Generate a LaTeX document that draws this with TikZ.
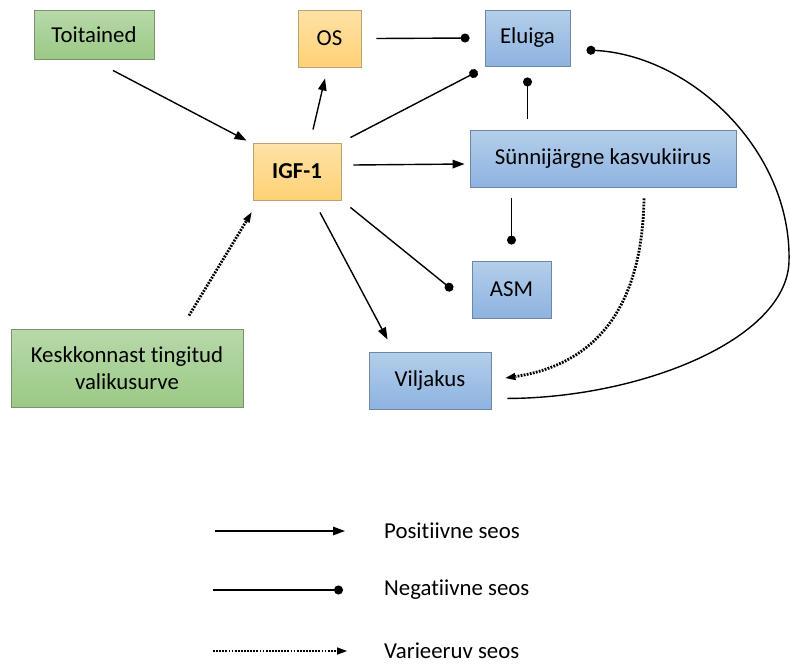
\documentclass[tikz,border=0pt]{standalone}
\usepackage{fontspec}
\setmainfont{Carlito}[Ligatures=NoCommon]
\usetikzlibrary{arrows.meta,calc}
\definecolor{gtop}{HTML}{B8D9AA}
\definecolor{gbot}{HTML}{9BC985}
\definecolor{gbrd}{HTML}{7A9270}
\definecolor{otop}{HTML}{FFE2A6}
\definecolor{obot}{HTML}{FFD176}
\definecolor{obrd}{HTML}{B9A274}
\definecolor{btop}{HTML}{B4CEEA}
\definecolor{bbot}{HTML}{8DB3E0}
\definecolor{bbrd}{HTML}{6F86A4}
\tikzset{
  box/.style={draw, line width=0.9pt, align=center, inner sep=0pt,
    font=\fontsize{22.8}{27}\selectfont},
  gbox/.style={box, draw=gbrd, top color=gtop, bottom color=gbot},
  obox/.style={box, draw=obrd, top color=otop, bottom color=obot},
  bbox/.style={box, draw=bbrd, top color=btop, bottom color=bbot},
  posarr/.style={line width=1.4pt, -{Triangle[length=12pt,width=8.5pt]}},
  negarr/.style={line width=1.4pt, -{Circle[length=9pt]}},
  vararr/.style={line width=2.8pt, dash pattern=on 1.8pt off 1.3pt, -{Triangle[length=10pt,width=7.5pt,line width=0pt]}},
  legtxt/.style={anchor=west, inner sep=0pt, font=\fontsize{22.8}{27}\selectfont}
}
\begin{document}
\begin{tikzpicture}[x=1pt,y=-1pt]
\useasboundingbox (0,0) rectangle (790,664);
% nodes
\node[gbox, minimum width=120pt, minimum height=49pt] (toit) at (94,34.5) {Toitained};
\node[obox, minimum width=63pt, minimum height=57pt] (os) at (329.5,38.5) {OS};
\node[bbox, minimum width=85pt, minimum height=56pt] (el) at (527.5,38) {Eluiga};
\node[obox, minimum width=88pt, minimum height=57pt, font=\fontsize{22.8}{27}\selectfont\bfseries] (igf) at (297,171.5) {IGF-1};
\node[bbox, minimum width=266pt, minimum height=57pt] (sk) at (603,158.5) {Sünnijärgne kasvukiirus};
\node[bbox, minimum width=79pt, minimum height=57pt] (asm) at (511.5,289.5) {ASM};
\node[gbox, minimum width=232pt, minimum height=78pt] (kesk) at (127,368) {Keskkonnast tingitud\\valikusurve};
\node[bbox, minimum width=122pt, minimum height=57pt] (vil) at (430,380.5) {Viljakus};
% connectors
\draw[posarr] ([shift={(19,11)}]toit.south) -- ([shift={(-6,-2)}]igf.north west);
\draw[posarr] ([shift={(16,-13)}]igf.north) -- ([shift={(-4.5,11)}]os.south);
\draw[negarr] ([shift={(15,0)}]os.east) -- ([shift={(-15,0)}]el.west);
\draw[negarr] ([shift={(9,-5)}]igf.north east) -- ([shift={(-7,5)}]el.south west);
\draw[negarr] ($(el.south |- sk.north)+(0,-11)$) -- ([shift={(0,11)}]el.south);
\draw[posarr] ([shift={(12,-6.5)}]igf.east) -- ([shift={(-5,5.5)}]sk.west);
\draw[negarr] ([shift={(9,7)}]igf.south east) -- ([shift={(-19,0.5)}]asm.west);
\draw[posarr] ([shift={(23,12)}]igf.south) -- ([shift={(19,-12)}]vil.north west);
\draw[vararr] ([shift={(62,-13)}]kesk.north) -- ([shift={(-1,12)}]igf.south west);
\draw[negarr] ($(asm.north |- sk.south)+(0,11)$) -- ([shift={(0,-16)}]asm.north);
\draw[vararr] ([shift={(41,11)}]sk.south) .. controls (642,320) and (585,366) .. ([shift={(14,-2.5)}]vil.east);
\draw[negarr] ([shift={(16,-11)}]vil.south east) .. controls (640,398) and (786,340) .. (789,262)
  .. controls (792,150) and (690,55) .. ([shift={(16,12)}]el.east);
% legend
\coordinate (l1a) at (215,531); \coordinate (l1b) at (345,531);
\coordinate (l2a) at (213,590); \coordinate (l2b) at (343,590);
\coordinate (l3a) at (213,651); \coordinate (l3b) at (347,651);
\draw[posarr] (l1a) -- (l1b);
\draw[negarr] (l2a) -- (l2b);
\draw[vararr] (l3a) -- (l3b);
\node[legtxt] (t1) at (384,531) {Positiivne seos};
\node[legtxt] (t2) at (384,590) {Negatiivne seos};
\node[legtxt] (t3) at (384,651) {Varieeruv seos};
\end{tikzpicture}
\end{document}
